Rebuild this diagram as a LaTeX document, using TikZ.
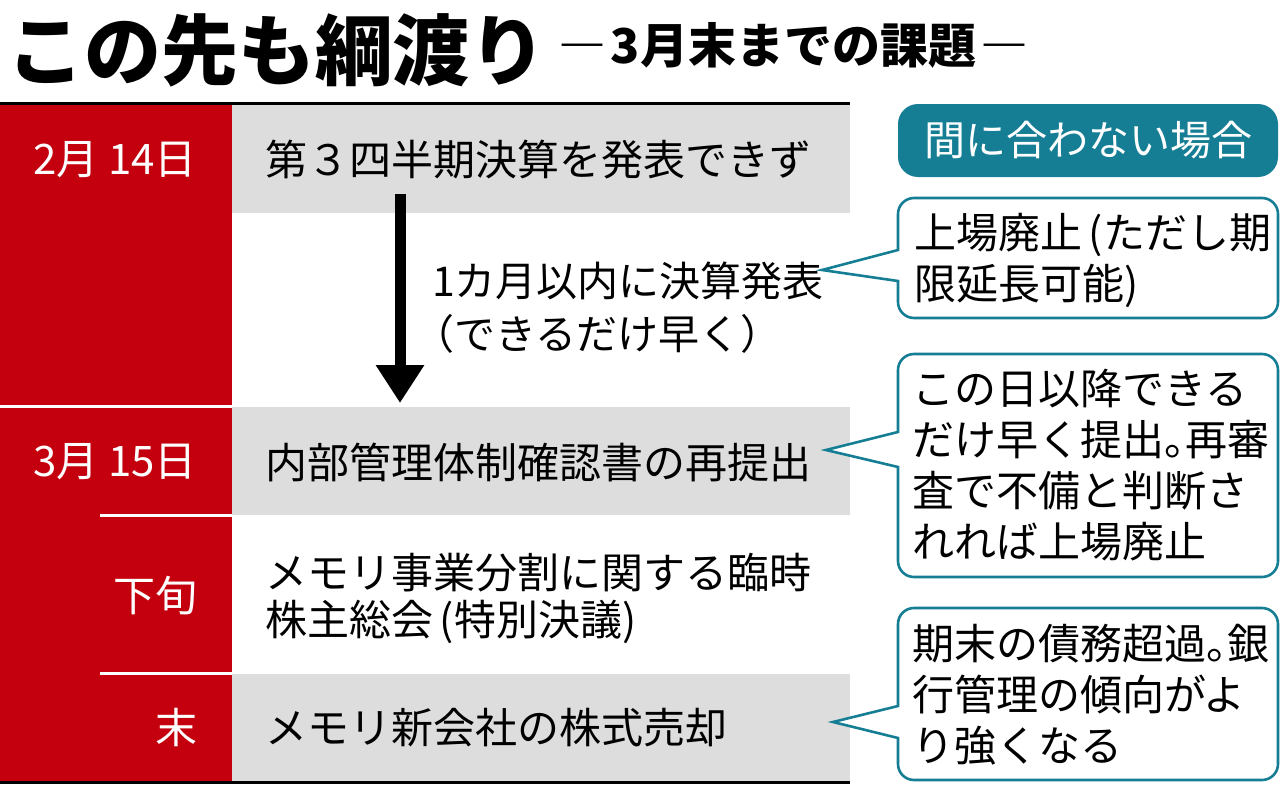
\documentclass[tikz,border=0pt]{standalone}
\usepackage{fontspec}
\setmainfont{Noto Sans CJK JP}
\usetikzlibrary{arrows.meta}
\definecolor{nred}{RGB}{196,0,14}
\definecolor{ngray}{RGB}{221,221,221}
\definecolor{nteal}{RGB}{22,126,148}
\newcommand\hmaru{\makebox[0.5em][l]{。}}
\begin{document}
\begin{tikzpicture}[x=0.5pt,y=-0.5pt,
  every node/.style={inner sep=0pt,outer sep=0pt},
  body/.style={anchor=west,font=\fontsize{21pt}{23.5pt}\selectfont,align=left},
  datelbl/.style={anchor=east,text=white,font=\fontsize{21pt}{24pt}\selectfont},
  calltext/.style={anchor=west,font=\fontsize{21pt}{25.5pt}\selectfont,align=left},
  callbox/.style={draw=nteal,line width=1.3pt,fill=white},
  rule/.style={line width=1.5pt},
  wline/.style={white,line width=1.5pt}]
\useasboundingbox (0,0) rectangle (1280,787);
% title
\node[anchor=west,font=\fontsize{38.5pt}{40pt}\selectfont\bfseries] (title) at (8,50) {この先も綱渡り};
\node[anchor=west,font=\fontsize{24pt}{26pt}\selectfont\bfseries] (subtitle) at (558,45) {―\hspace{0.1em}3月末までの課題\hspace{0.1em}―};
% table background
\fill[nred] (0,104) rectangle (232,781);
\fill[ngray] (232,104) rectangle (850,213);
\fill[ngray] (232,407) rectangle (850,515);
\fill[ngray] (232,674) rectangle (850,781);
\draw[wline] (0,406) -- (232,406);
\draw[wline] (100,515) -- (232,515);
\draw[wline] (100,673) -- (232,673);
\draw[rule] (0,103) -- (850,103);
\draw[rule] (0,782) -- (850,782);
% dates
\node[datelbl] (d1) at (197,160) {2月 14日};
\node[datelbl] (d2) at (197,462) {3月 15日};
\node[datelbl] (d3) at (197,596) {下旬};
\node[datelbl] (d4) at (197,728) {末};
% events
\node[body] (e1) at (265,160) {第３四半期決算を発表できず};
\node[body] (e2) at (265,462) {内部管理体制確認書の再提出};
\node[body] (e3) at (265,598) {メモリ事業分割に関する臨時\\株主総会\,(特別決議)};
\node[body] (e4) at (265,728) {メモリ新会社の株式売却};
% arrow
\coordinate (atop) at (400,194);
\coordinate (abot) at (400,403);
\draw[line width=5.5pt,-{Triangle[width=23pt,length=19pt]}] (atop) -- (abot);
\node[anchor=west,font=\fontsize{20.5pt}{26.5pt}\selectfont,align=left] (note) at (432,308) {1カ月以内に決算発表\\\hspace*{-0.45em}（できるだけ早く）};
% header
\fill[nteal,rounded corners=10pt] (898,104) rectangle (1278,177);
\node[text=white,font=\fontsize{20.5pt}{24pt}\selectfont] (hdr) at (1088,140) {間に合わない場合};
% callout 1
\coordinate (t1) at (822,270);
\draw[callbox] (898,250) [rounded corners=8pt] -- (898,198) -- (1278,198) -- (1278,318) -- (898,318) [sharp corners] -- (898,281) -- (t1) -- cycle;
\node[calltext] (c1) at (914,260) {上場廃止\,(ただし期\\限延長可能)};
% callout 2
\coordinate (t2) at (826,450);
\draw[callbox] (898,432) [rounded corners=8pt] -- (898,354) -- (1278,354) -- (1278,577) -- (898,577) [sharp corners] -- (898,467) -- (t2) -- cycle;
\node[calltext] (c2) at (912,465) {この日以降できる\\だけ早く提出\hmaru 再審\\査で不備と判断さ\\れれば上場廃止};
% callout 3
\coordinate (t3) at (833,722);
\draw[callbox] (898,706) [rounded corners=8pt] -- (898,608) -- (1278,608) -- (1278,780) -- (898,780) [sharp corners] -- (898,738) -- (t3) -- cycle;
\node[calltext] (c3) at (912,695) {期末の債務超過\hmaru 銀\\行管理の傾向がよ\\り強くなる};
\end{tikzpicture}
\end{document}
